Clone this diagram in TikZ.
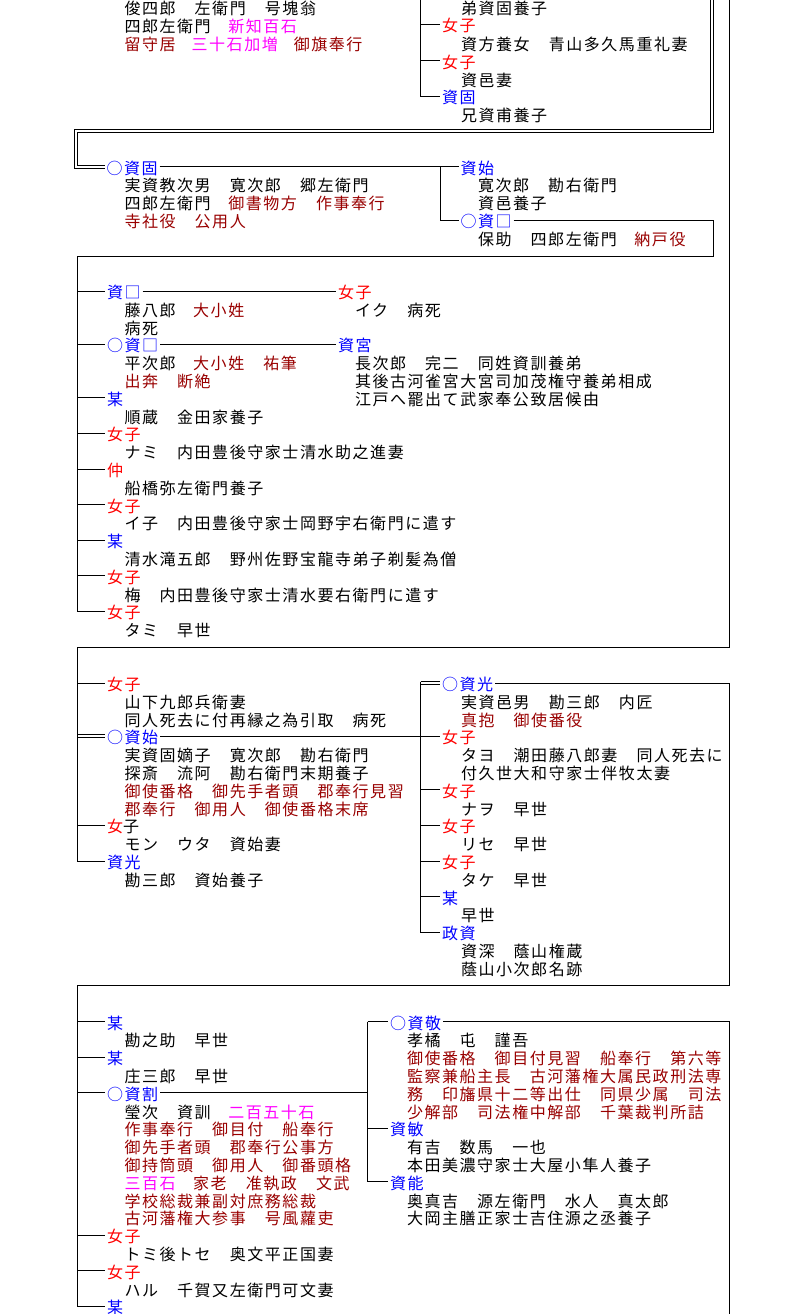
\documentclass[tikz,border=0pt]{standalone}
\usepackage{fontspec}
\setmainfont{Noto Sans CJK JP}[LetterSpace=9.7]
\definecolor{jred}{RGB}{255,0,0}
\definecolor{jblue}{RGB}{0,0,255}
\definecolor{jmag}{RGB}{255,0,255}
\definecolor{jdark}{RGB}{153,0,0}
\newcommand\Mg[1]{\textcolor{jmag}{#1}}
\newcommand\Dk[1]{\textcolor{jdark}{#1}}
\begin{document}
\begin{tikzpicture}[x=1pt,y=-1pt,line width=1pt,
  every node/.style={font=\fontsize{16pt}{18pt}\selectfont, inner sep=0pt, outer sep=0pt, text height=15pt, text depth=0pt, anchor=west},
  lbl/.style={outer sep=2pt},
  nz/.style={text=jred},
  nm/.style={text=jblue},
  dbl/.style={double=white, double distance=2pt, line width=1pt}]
\fill[white] (0,0) rectangle (794,1314);
\useasboundingbox (0,0) rectangle (794,1314);

% ---------------- section 1
\node (a1) at (124.5,7) {俊四郎　左衛門　号塊翁};
\node (a2) at (124.5,25) {四郎左衛門　\Mg{新知百石}};
\node (a3) at (124.5,43) {\Dk{留守居}　\Mg{三十石加増}　\Dk{御旗奉行}};
\node (b0) at (461,7) {弟資固養子};
\node[lbl,nz] (b1) at (440,24.5) {女子};
\node (b1t) at (461,43) {資方養女　青山多久馬重礼妻};
\node[lbl,nz] (b2) at (440,60.5) {女子};
\node (b2t) at (461,79) {資邑妻};
\node[lbl,nm] (b3) at (440,96) {資固};
\node (b3t) at (461,114) {兄資甫養子};
\coordinate (t1) at (420.5,0);
\draw (t1) |- (b3.west);
\draw (t1 |- b1.west) -- (b1.west);
\draw (t1 |- b2.west) -- (b2.west);

% ---------------- section 2
\node[lbl,nm] (c1) at (104.5,166.5) {○資固};
\node (c1a) at (124.5,184.3) {実資教次男　寛次郎　郷左衛門};
\node (c1b) at (124.5,202.1) {四郎左衛門　\Dk{御書物方　作事奉行}};
\node (c1c) at (124.5,219.9) {\Dk{寺社役　公用人}};
\node[lbl,nm] (c2) at (458.5,166.5) {資始};
\node (c2a) at (478,184.3) {寛次郎　勘右衛門};
\node (c2b) at (478,202.1) {資邑養子};
\node[lbl,nm] (c3) at (458.5,220) {○資□};
\node (c3a) at (478,237.8) {保助　四郎左衛門　\Dk{納戸役}};

\coordinate (d0c) at (711.7,0);
\coordinate (d1c) at (711.7,130.7);
\coordinate (d2c) at (75.7,130.7);
\draw[dbl] (d0c) -- (d1c) -- (d2c) |- (c1.west);

\draw (c1.east) -- (c2.west);
\coordinate (j2) at (440.5,166.5);
\draw (j2) |- (c3.west);

% ---------------- section 3
\node[lbl,nm] (d0) at (105,291) {資□};
\node[lbl,nz] (d0r) at (336,291) {女子};
\node (d0a) at (124.5,308.8) {藤八郎　\Dk{大小姓}};
\node (d0b) at (124.5,326.6) {病死};
\node (d0ra) at (355,308.8) {イク　病死};
\node[lbl,nm] (d1) at (105,344.4) {○資□};
\node[lbl,nm] (d1r) at (336,344.4) {資宮};
\node (d1a) at (124.5,362.2) {平次郎　\Dk{大小姓　祐筆}};
\node (d1b) at (124.5,380) {\Dk{出奔　断絶}};
\node (d1ra) at (355,362.2) {長次郎　完二　同姓資訓養弟};
\node (d1rb) at (355,380) {其後古河雀宮大宮司加茂権守養弟相成};
\node (d1rc) at (355,397.8) {江戸へ罷出て武家奉公致居候由};
\node[lbl,nm] (d2) at (105,397.8) {某};
\node (d2a) at (124.5,415.6) {順蔵　金田家養子};
\node[lbl,nz] (d3) at (105,433.4) {女子};
\node (d3a) at (124.5,451.2) {ナミ　内田豊後守家士清水助之進妻};
\node[lbl,nz] (d4) at (105,469) {仲};
\node (d4a) at (124.5,486.8) {船橋弥左衛門養子};
\node[lbl,nz] (d5) at (105,504.6) {女子};
\node (d5a) at (124.5,522.4) {イ子　内田豊後守家士岡野宇右衛門に遣す};
\node[lbl,nm] (d6) at (105,540.2) {某};
\node (d6a) at (124.5,558) {清水滝五郎　野州佐野宝龍寺弟子剃髪為僧};
\node[lbl,nz] (d7) at (105,575.8) {女子};
\node (d7a) at (124.5,593.6) {梅　内田豊後守家士清水要右衛門に遣す};
\node[lbl,nz] (d8) at (105,611.4) {女子};
\node (d8a) at (124.5,629.2) {タミ　早世};

\coordinate (e1) at (713.5,256);
\coordinate (e2) at (77,256);
\draw (c3.east) -| (e1) -- (e2) |- (d8.west);
\foreach \n in {d0,d1,d2,d3,d4,d5,d6,d7} \draw (e2 |- \n.west) -- (\n.west);
\draw (d0.east) -- (d0r.west);
\draw (d1.east) -- (d1r.west);

% ---------------- section 4
\node[lbl,nz] (f1) at (105,683) {女子};
\node (f1a) at (124.5,700.8) {山下九郎兵衛妻};
\node (f1b) at (124.5,718.6) {同人死去に付再縁之為引取　病死};
\node[lbl,nm] (f2) at (105,736.4) {○資始};
\node (f2a) at (124.5,754.2) {実資固嫡子　寛次郎　勘右衛門};
\node (f2b) at (124.5,772) {探斎　流阿　勘右衛門末期養子};
\node (f2c) at (124.5,789.8) {\Dk{御使番格　御先手者頭　郡奉行見習}};
\node (f2d) at (124.5,807.6) {\Dk{郡奉行　御用人　御使番格末席}};
\node[lbl] (f3) at (105,825.4) {\textcolor{jred}{女}子};
\node (f3a) at (124.5,843.2) {モン　ウタ　資始妻};
\node[lbl,nm] (f4) at (105,861) {資光};
\node (f4a) at (124.5,878.8) {勘三郎　資始養子};

\node[lbl,nm] (h1) at (440,683) {○資光};
\node (h1a) at (461,700.8) {実資邑男　勘三郎　内匠};
\node (h1b) at (461,718.6) {\Dk{真抱　御使番役}};
\node[lbl,nz] (h2) at (440,736.4) {女子};
\node (h2a) at (461,754.2) {タヨ　潮田藤八郎妻　同人死去に};
\node (h2b) at (461,772) {付久世大和守家士伴牧太妻};
\node[lbl,nz] (h3) at (440,789.8) {女子};
\node (h3a) at (461,807.6) {ナヲ　早世};
\node[lbl,nz] (h4) at (440,825.4) {女子};
\node (h4a) at (461,843.2) {リセ　早世};
\node[lbl,nz] (h5) at (440,861) {女子};
\node (h5a) at (461,878.8) {タケ　早世};
\node[lbl,nm] (h6) at (440,896.6) {某};
\node (h6a) at (461,914.4) {早世};
\node[lbl,nm] (h7) at (440,932.2) {政資};
\node (h7a) at (461,950) {資深　蔭山権蔵};
\node (h7b) at (461,967.8) {蔭山小次郎名跡};

\coordinate (g0) at (729.5,0);
\coordinate (g1) at (729.5,647.5);
\coordinate (g2) at (77,647.5);
\draw[dbl] (g2 |- f2.west) -- (f2.west);
\draw (g0) -- (g1) -- (g2) |- (f4.west);
\draw (g2 |- f1.west) -- (f1.west);
\draw (g2 |- f3.west) -- (f3.west);

\coordinate (k0) at (420.5,681.5);
\draw[dbl] (k0 |- h1.west) -- (h1.west);
\draw (k0) |- (h7.west);
\foreach \n in {h3,h4,h5,h6} \draw (k0 |- \n.west) -- (\n.west);
\draw (f2.east) -- (h2.west);

% ---------------- section 5
\node[lbl,nm] (p1) at (105,1021.5) {某};
\node (p1a) at (124.5,1039.3) {勘之助　早世};
\node[lbl,nm] (p2) at (105,1057.1) {某};
\node (p2a) at (124.5,1074.9) {庄三郎　早世};
\node[lbl,nm] (p3) at (105,1092.7) {○資割};
\node (p3a) at (124.5,1110.5) {瑩次　資訓　\Mg{二百五十石}};
\node (p3b) at (124.5,1128.3) {\Dk{作事奉行　御目付　船奉行}};
\node (p3c) at (124.5,1146.1) {\Dk{御先手者頭　郡奉行公事方}};
\node (p3d) at (124.5,1163.9) {\Dk{御持筒頭　御用人　御番頭格}};
\node (p3e) at (124.5,1181.7) {\Mg{三百石}\Dk{　家老　准執政　文武}};
\node (p3f) at (124.5,1199.5) {\Dk{学校総裁兼副対庶務総裁}};
\node (p3g) at (124.5,1217.3) {\Dk{古河藩権大参事　号風蘿吏}};
\node[lbl,nz] (p4) at (105,1235.1) {女子};
\node (p4a) at (124.5,1252.9) {トミ後トセ　奥文平正国妻};
\node[lbl,nz] (p5) at (105,1270.7) {女子};
\node (p5a) at (124.5,1288.5) {ハル　千賀又左衛門可文妻};
\node[lbl,nm] (p6) at (105,1306.3) {某};

\node[lbl,nm] (q1) at (388,1021.5) {○資敬};
\node (q1a) at (407,1039.3) {孝橘　屯　謹吾};
\node (q1b) at (407,1057.1) {\Dk{御使番格　御目付見習　船奉行　第六等}};
\node (q1c) at (407,1074.9) {\Dk{監察兼船主長　古河藩権大属民政刑法専}};
\node (q1d) at (407,1092.7) {\Dk{務　印旛県十二等出仕　同県少属　司法}};
\node (q1e) at (407,1110.5) {\Dk{少解部　司法権中解部　千葉裁判所詰}};
\node[lbl,nm] (q2) at (388,1128.3) {資敏};
\node (q2a) at (407,1146.1) {有吉　数馬　一也};
\node (q2b) at (407,1163.9) {本田美濃守家士大屋小隼人養子};
\node[lbl,nm] (q3) at (388,1181.7) {資能};
\node (q3a) at (407,1199.5) {奥真吉　源左衛門　水人　真太郎};
\node (q3b) at (407,1217.3) {大岡主膳正家士吉住源之丞養子};

\coordinate (m1) at (729.5,985.5);
\coordinate (m2) at (77,985.5);
\draw (h1.east) -| (m1) -- (m2) |- (p6.west);
\foreach \n in {p1,p2,p3,p4,p5} \draw (m2 |- \n.west) -- (\n.west);

\coordinate (rr) at (367.5,1021.5);
\draw (rr) |- (q3.west);
\draw (rr) -- (q1.west);
\draw (rr |- q2.west) -- (q2.west);
\draw (p3.east) -- (p3.east -| rr);
\coordinate (s1) at (729.5,1314);
\draw (q1.east) -| (s1);
\end{tikzpicture}
\end{document}
